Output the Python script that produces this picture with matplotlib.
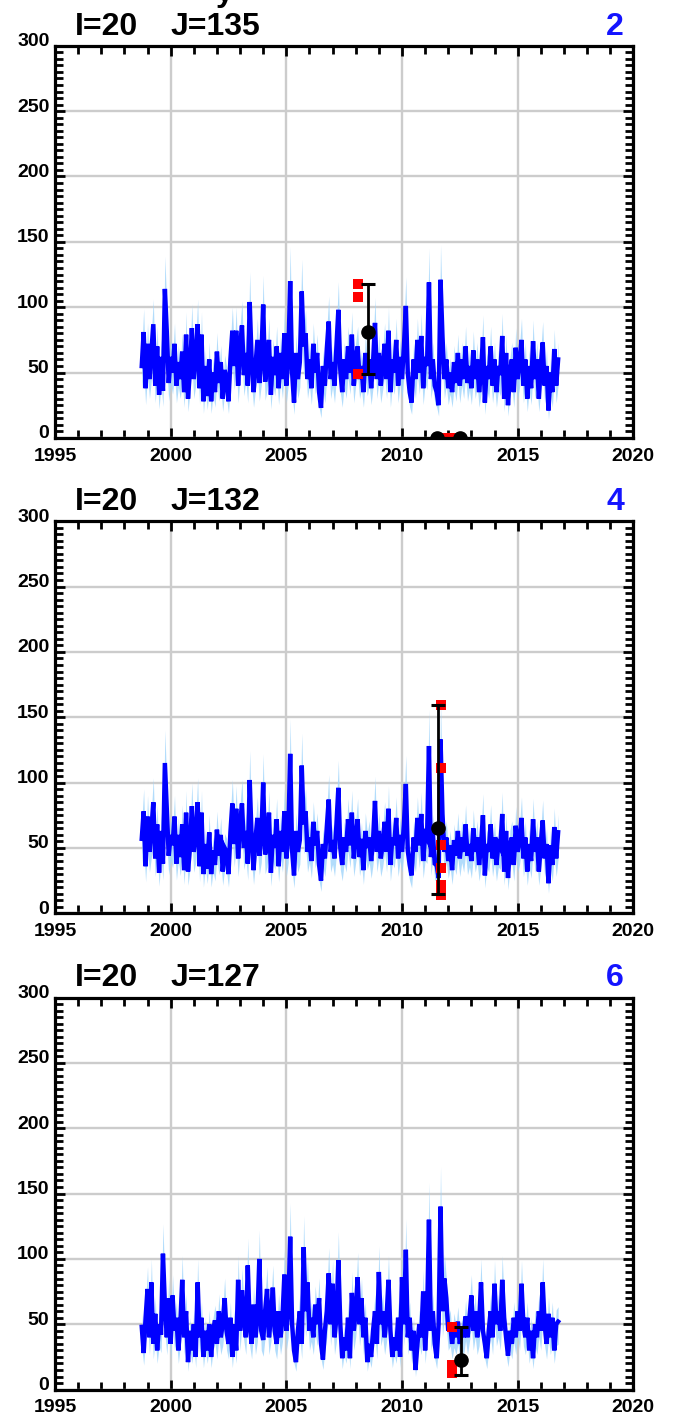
import matplotlib
matplotlib.use("Agg")
import matplotlib.pyplot as plt
from matplotlib.ticker import MultipleLocator
import matplotlib.transforms as mtransforms
import numpy as np

# ---------------- data ----------------
START_YEAR = 1998.75          # first monthly sample
STEP = 1.0 / 12.0             # monthly sampling

series_j135 = [
    55, 81, 38, 72, 45, 66, 87, 40, 70, 33, 62, 36,
    114, 81, 42, 62, 50, 72, 40, 58, 45, 66, 35, 79,
    30, 52, 84, 45, 60, 87, 38, 79, 28, 55, 32, 60,
    28, 50, 35, 66, 42, 58, 30, 52, 45, 28, 60, 82,
    55, 82, 40, 70, 86, 48, 65, 40, 104, 60, 35, 55,
    75, 42, 60, 102, 43, 55, 75, 33, 62, 48, 70, 38,
    65, 45, 80, 40, 60, 120, 50, 27, 65, 45, 58, 112,
    70, 80, 45, 60, 38, 72, 50, 65, 35, 23, 55, 40,
    68, 89, 45, 58, 40, 70, 98, 52, 35, 60, 45, 70,
    50, 79, 40, 60, 70, 45, 55, 35, 65, 48, 60, 38,
    58, 88, 45, 65, 40, 55, 72, 45, 82, 35, 60, 50,
    75, 40, 62, 45, 70, 101, 50, 35, 27, 60, 45, 75,
    50, 78, 38, 62, 55, 119, 45, 60, 40, 35, 25, 121,
    78, 45, 60, 38, 50, 35, 58, 42, 65, 40, 60, 45,
    70, 42, 55, 38, 67, 45, 60, 35, 50, 77, 27, 55,
    45, 70, 40, 60, 35, 55, 48, 78, 30, 65, 25, 50,
    60, 35, 69, 45, 58, 75, 40, 60, 30, 55, 38, 74,
    45, 60, 30, 55, 73, 40, 55, 21, 50, 35, 68, 40, 60,
]

series_j132 = [
    57, 78, 36, 74, 47, 64, 85, 42, 68, 31, 63, 38,
    115, 79, 44, 60, 52, 74, 38, 60, 43, 68, 33, 77,
    32, 50, 82, 47, 58, 85, 36, 77, 30, 53, 34, 62,
    30, 48, 37, 64, 44, 60, 32, 50, 47, 30, 62, 84,
    53, 80, 42, 68, 84, 50, 63, 38, 102, 58, 33, 57,
    73, 44, 58, 100, 45, 53, 77, 31, 60, 50, 72, 36,
    63, 47, 78, 42, 58, 122, 48, 29, 63, 47, 56, 113,
    68, 78, 47, 58, 40, 70, 52, 63, 37, 25, 53, 42,
    66, 87, 47, 56, 42, 68, 96, 50, 37, 58, 47, 72,
    52, 77, 42, 58, 72, 43, 57, 33, 63, 50, 58, 40,
    56, 86, 47, 63, 42, 53, 70, 47, 80, 37, 58, 52,
    73, 42, 60, 47, 68, 99, 48, 37, 29, 58, 47, 73,
    52, 76, 40, 60, 57, 128, 43, 62, 38, 37, 27, 133,
    76, 47, 58, 40, 52, 33, 56, 44, 63, 42, 58, 47,
    68, 44, 53, 40, 65, 47, 58, 37, 52, 75, 29, 53,
    47, 68, 42, 58, 37, 53, 50, 76, 32, 63, 27, 52,
    58, 37, 67, 47, 56, 73, 42, 58, 32, 53, 40, 72,
    47, 58, 32, 53, 71, 42, 53, 23, 52, 37, 66, 42, 62,
]

series_j127 = [
    48, 28, 55, 77, 40, 82, 35, 58, 30, 50, 42, 104,
    65, 40, 70, 35, 72, 45, 55, 30, 50, 84, 40, 60,
    21, 45, 30, 50, 25, 82, 40, 55, 25, 45, 30, 50,
    25, 45, 53, 35, 60, 40, 50, 70, 45, 35, 55, 25,
    50, 30, 84, 45, 76, 55, 40, 95, 50, 35, 65, 40,
    55, 100, 45, 38, 60, 77, 40, 55, 78, 45, 35, 60,
    40, 55, 88, 45, 60, 117, 50, 30, 21, 45, 60, 35,
    109, 60, 82, 45, 55, 40, 65, 50, 70, 35, 23, 45,
    60, 89, 50, 81, 40, 55, 99, 50, 24, 40, 30, 55,
    24, 74, 45, 60, 86, 50, 70, 40, 55, 21, 35, 25,
    45, 60, 35, 90, 50, 60, 40, 55, 84, 45, 25, 40,
    30, 55, 25, 86, 50, 107, 40, 55, 30, 45, 15, 35,
    50, 40, 75, 30, 55, 130, 45, 60, 35, 24, 50, 140,
    60, 85, 70, 45, 50, 35, 48, 40, 52, 35, 45, 40,
    56, 40, 55, 72, 45, 60, 40, 50, 82, 45, 35, 24,
    45, 60, 40, 81, 50, 60, 45, 84, 55, 40, 26, 45,
    35, 55, 40, 60, 45, 81, 50, 40, 55, 30, 45, 24,
    50, 40, 60, 45, 82, 50, 35, 58, 40, 55, 30, 50, 52,
]

# relative uncertainty envelope of the modelled series
BAND_UP = 0.22
BAND_DN = 0.33

# observations (red squares)
obs_x_j135 = [2008.10, 2008.10, 2008.10, 2011.79, 2012.14]
obs_y_j135 = [118, 108, 49, 0, 0]
obs_x_j132 = [2011.67, 2011.67, 2011.67, 2011.67, 2011.67, 2011.67]
obs_y_j132 = [159, 111, 52, 35, 22, 14]
obs_x_j127 = [2012.18, 2012.18, 2012.18]
obs_y_j127 = [48, 19, 13]

# observation means (black dots) with min/max range
mean_x_j135 = [2008.52, 2011.52, 2012.52]
mean_y_j135 = [81, 0, 0]
mean_lo_j135 = [49, 0, 0]
mean_hi_j135 = [118, 0, 0]
mean_x_j132 = [2011.54]
mean_y_j132 = [65]
mean_lo_j132 = [14.5]
mean_hi_j132 = [159]
mean_x_j127 = [2012.55]
mean_y_j127 = [23]
mean_lo_j127 = [11]
mean_hi_j127 = [48]

titles = ["I=20", "I=20", "I=20"]
subtitles = ["J=135", "J=132", "J=127"]
panel_ids = ["2", "4", "6"]

x_ticks = [1995, 2000, 2005, 2010, 2015, 2020]
y_ticks = [0, 50, 100, 150, 200, 250, 300]

# ---------------- figure ----------------
W, H = 675, 1422
fig = plt.figure(figsize=(W / 100, H / 100), dpi=100)
plt.rcParams['font.family'] = ['Liberation Sans', 'DejaVu Sans']

def fy(px):
    return 1 - px / H

panels = [
    (series_j135, obs_x_j135, obs_y_j135, mean_x_j135, mean_y_j135, mean_lo_j135, mean_hi_j135),
    (series_j132, obs_x_j132, obs_y_j132, mean_x_j132, mean_y_j132, mean_lo_j132, mean_hi_j132),
    (series_j127, obs_x_j127, obs_y_j127, mean_x_j127, mean_y_j127, mean_lo_j127, mean_hi_j127),
]
bottoms_px = [437.9, 913.3, 1389.6]
ax_h_px = 392.1
left_px, ax_w_px = 55.0, 578.3

for k, (ser, ox, oy, mx, my, mlo, mhi) in enumerate(panels):
    bpx = bottoms_px[k]
    tpx = bpx - ax_h_px
    ax = fig.add_axes([left_px / W, fy(bpx), ax_w_px / W, ax_h_px / H])
    vals = np.array(ser, dtype=float)
    t = START_YEAR + STEP * np.arange(len(vals))
    ax.fill_between(t, vals * (1 - BAND_DN), vals * (1 + BAND_UP),
                    color='#9fd4fb', alpha=0.8, lw=0, zorder=2)
    ax.plot(t, vals, color='#0000ff', lw=3.2, zorder=3, solid_joinstyle='miter')
    ax.plot(ox, oy, 's', color='#ff0000', ms=7.6, mew=0, zorder=4, linestyle='none')
    my_a = np.array(my, dtype=float)
    yerr = [my_a - np.array(mlo), np.array(mhi) - my_a]
    ax.errorbar(mx, my, yerr=yerr, fmt='o', color='black', ms=9.5,
                capsize=4.8, elinewidth=2.0, capthick=2.2, zorder=5)

    ax.set_xlim(1995, 2020)
    ax.set_ylim(0, 300)
    ax.set_xticks(x_ticks)
    ax.set_yticks(y_ticks)
    ax.xaxis.set_minor_locator(MultipleLocator(1))
    ax.yaxis.set_minor_locator(MultipleLocator(5))
    ax.set_axisbelow(True)
    ax.grid(which='major', color='#cccccc', lw=1.7, zorder=0)
    for s in ax.spines.values():
        s.set_linewidth(2.3)
        s.set_zorder(6)
    ax.tick_params(which='both', direction='in', top=True, right=True,
                   width=2.0, color='black')
    ax.tick_params(which='major', length=7)
    ax.tick_params(which='minor', length=6)
    ax.tick_params(axis='x', which='major', pad=7, labelsize=14)
    ax.tick_params(axis='y', which='major', pad=4, labelsize=14)
    for lab in ax.get_xticklabels() + ax.get_yticklabels():
        lab.set_fontweight('bold')
    off = mtransforms.ScaledTranslation(0, 6 / 100, fig.dpi_scale_trans)
    for lab in ax.get_yticklabels():
        lab.set_transform(lab.get_transform() + off)

    base = tpx - 11
    fig.text(75 / W, fy(base), titles[k], fontsize=23, fontweight='bold',
             ha='left', va='baseline')
    fig.text(171 / W, fy(base), subtitles[k], fontsize=23, fontweight='bold',
             ha='left', va='baseline')
    fig.text(624 / W, fy(base), panel_ids[k], fontsize=23, fontweight='bold',
             color='#1414ff', ha='right', va='baseline')

# fragment of a heading that is clipped by the top edge in the reference
fig.text(225 / W, fy(0.5), "y", fontsize=23, fontweight='bold', ha='center', va='baseline')

fig.savefig("out.png", dpi=100)
